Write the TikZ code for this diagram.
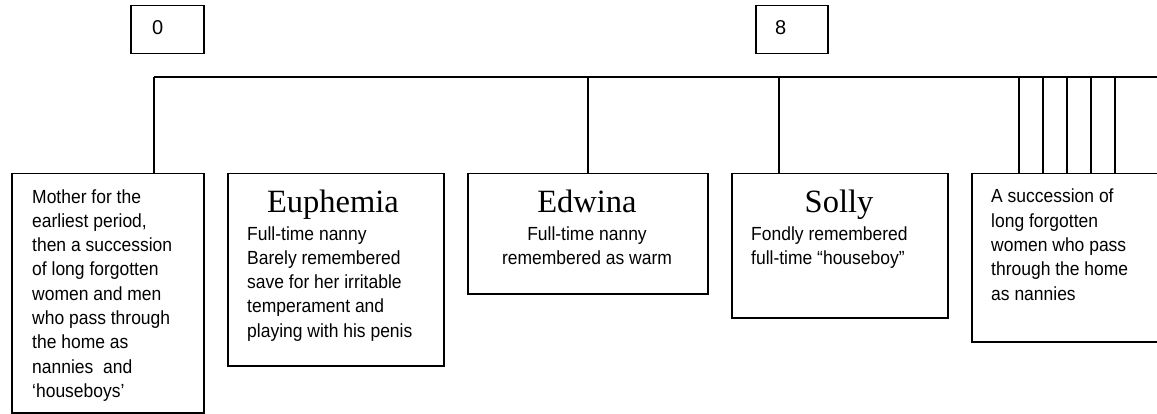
\documentclass[tikz,border=0pt]{standalone}
\usepackage{fontspec}
\setmainfont{Liberation Serif}
\newfontfamily\bodyfont[FakeStretch=0.92]{Liberation Sans}
\newfontfamily\labelfont{Liberation Sans}
\newfontfamily\namefont{Liberation Serif}

\begin{document}
\begin{tikzpicture}[x=1pt, y=-1pt,
  frame/.style={draw, line width=1.5pt, anchor=north west, inner sep=0pt},
  link/.style={draw, line width=1.5pt},
  bodytext/.style={inner sep=0pt, align=left,
    font=\bodyfont\fontsize{19}{24.3}\selectfont},
  nametext/.style={inner sep=0pt, font=\namefont\fontsize{32.5}{32.5}\selectfont},
  agetext/.style={inner sep=0pt, font=\labelfont\fontsize{20}{20}\selectfont}]

\useasboundingbox (0,0) rectangle (1157,414);
\clip (0,0) rectangle (1157,414);

% age markers
\node[frame, minimum width=73pt, minimum height=48pt] (k0) at (130,5) {};
\node[agetext, anchor=base west] (l0) at (152,35) {0};
\node[frame, minimum width=72pt, minimum height=48pt] (k8) at (755,5) {};
\node[agetext, anchor=base west] (l8) at (775,35) {8};

% carer boxes
\node[frame, minimum width=192pt, minimum height=239pt] (b1) at (11,173) {};
\node[frame, minimum width=216pt, minimum height=192pt] (b2) at (227,173) {};
\node[frame, minimum width=240pt, minimum height=120pt] (b3) at (467,173) {};
\node[frame, minimum width=216pt, minimum height=144pt] (b4) at (731,173) {};
\node[frame, minimum width=216pt, minimum height=168pt] (b5) at (971,173) {};

% box contents (multi-line texts are placed by the baseline of their last line)
\node[bodytext, anchor=base west] (t1) at (32,397.4)
  {Mother for the\\earliest period,\\then a succession\\of long forgotten\\women and men\\who pass through\\the home as\\nannies~ and\\‘houseboys’};

\node[nametext, anchor=base] (n2) at (333,213) {Euphemia};
\node[bodytext, anchor=base west] (t2) at (247,337.2)
  {Full-time nanny\\Barely remembered\\save for her irritable\\temperament and\\playing with his penis};

\node[nametext, anchor=base] (n3) at (587,213) {Edwina};
\node[bodytext, align=center, anchor=base] (t3) at (587,264.3)
  {Full-time nanny\\remembered as warm};

\node[nametext, anchor=base] (n4) at (839,213) {Solly};
\node[bodytext, anchor=base west] (t4) at (751,264.3)
  {Fondly remembered\\full-time “houseboy”};

\node[bodytext, anchor=base west] (t5) at (991,300.2)
  {A succession of\\long forgotten\\women who pass\\through the home\\as nannies};

% time line and drops
\coordinate (barL) at (154,77);
\coordinate (barR) at (1165,77);
\draw[link] (barL) -- (barR);
\draw[link] (barL) -- (barL |- b1.north);
\draw[link] (b3.north) -- (b3.north |- barL);
\coordinate (d4) at (779,77);
\draw[link] (d4) -- (d4 |- b4.north);
\foreach \i/\x in {1/1019, 2/1043, 3/1067, 4/1091, 5/1115} {
  \coordinate (d5-\i) at (\x,77);
  \draw[link] (d5-\i) -- (d5-\i |- b5.north);
}
\end{tikzpicture}
\end{document}
